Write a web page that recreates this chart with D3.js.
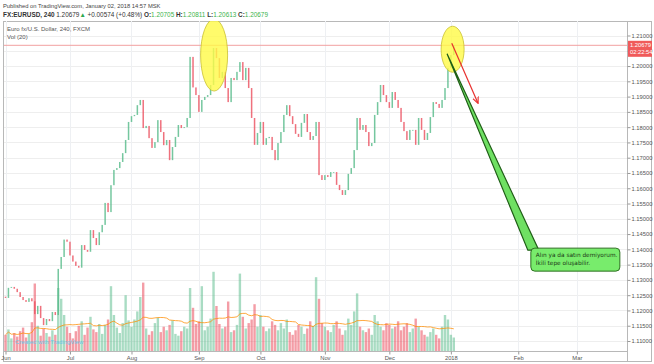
<!DOCTYPE html>
<html>
<head>
<meta charset="utf-8">
<script src="https://cdn.jsdelivr.net/npm/d3@7"></script>
<style>
body { margin: 0; background: #fff; }
svg text { font-family: "Liberation Sans", Arial, sans-serif; }
</style>
</head>
<body>
<div id="chartDiv"></div>
<script>
var width = 654;
var height = 364;
var plot = { left: 4, top: 21, right: 627, bottom: 351 };

// month axis: labels and the session index where each month starts
var monthLabels = ["Jun", "Jul", "Aug", "Sep", "Oct", "Nov", "Dec", "2018", "Feb", "Mar"];
var monthStarts = [0, 22, 43, 66, 87, 109, 131, 152, 175, 195];

var priceTicks = [1.110, 1.115, 1.120, 1.125, 1.130, 1.135, 1.140, 1.145, 1.150, 1.155, 1.160,
                  1.165, 1.170, 1.175, 1.180, 1.185, 1.190, 1.195, 1.200, 1.205, 1.210];

var firstOpen = 1.1245;
// closes, one per session, Jun 1 2017 .. Jan 2 2018
var closes = [
  1.1241, 1.1274, 1.1277, 1.1271, 1.1260, 1.1244, 1.1234, 1.1228, 1.1240, 1.1230, 1.1188, 1.1215,
  1.1175, 1.1152, 1.1172, 1.1165, 1.1195, 1.1185, 1.1336, 1.1375, 1.1432, 1.1425,
  1.1380, 1.1360, 1.1346, 1.1340, 1.1414, 1.1398, 1.1392, 1.1463, 1.1437, 1.1414, 1.1456,
  1.1480, 1.1552, 1.1522, 1.1610, 1.1660, 1.1666, 1.1686, 1.1715, 1.1758, 1.1817,
  1.1836, 1.1840, 1.1872, 1.1889, 1.1797, 1.1804, 1.1764, 1.1732, 1.1751, 1.1823, 1.1784,
  1.1741, 1.1758, 1.1692, 1.1735, 1.1768, 1.1807, 1.1797, 1.1800, 1.1830, 1.2030, 1.1930, 1.1905,
  1.1850, 1.1889, 1.1899, 1.1905, 1.1938, 1.2059, 1.2026, 1.1961, 1.1981, 1.1928, 1.1882,
  1.1961, 1.1954, 1.1981, 1.2013, 1.1954, 1.1994, 1.1928, 1.1830, 1.1742, 1.1781,
  1.1817, 1.1742, 1.1764, 1.1768, 1.1725, 1.1692, 1.1748, 1.1784, 1.1840, 1.1872, 1.1836,
  1.1810, 1.1778, 1.1768, 1.1814, 1.1843, 1.1784, 1.1758, 1.1771, 1.1817, 1.1643, 1.1627,
  1.1643, 1.1637, 1.1653, 1.1653, 1.1611, 1.1594, 1.1578, 1.1594, 1.1647, 1.1666, 1.1725,
  1.1830, 1.1791, 1.1807, 1.1784, 1.1738, 1.1748, 1.1840, 1.1882, 1.1938, 1.1905, 1.1882,
  1.1863, 1.1915, 1.1889, 1.1863, 1.1817, 1.1787, 1.1758, 1.1791, 1.1791, 1.1742, 1.1830,
  1.1791, 1.1758, 1.1781, 1.1833, 1.1882, 1.1876, 1.1863, 1.1889, 1.1928, 1.1994,
  1.2036, 1.20679
];

var volumes = [
  18, 24, 14, 20, 16, 22, 26, 15, 19, 32, 75, 28, 17, 25, 20, 16, 23, 18, 70, 58, 40, 27,
  20, 14, 22, 28, 33, 18, 26, 38, 24, 21, 30, 19, 29, 35, 72, 40, 26, 20, 31, 62, 34,
  27, 35, 44, 60, 76, 25, 18, 22, 31, 37, 21, 27, 23, 29, 34, 19, 17, 22, 27, 25, 70, 48, 30,
  33, 72, 23, 27, 36, 88, 50, 30, 25, 27, 55, 21, 23, 29, 86, 38, 25, 31, 35, 52, 27,
  40, 27, 22, 25, 33, 29, 23, 31, 25, 35, 21, 18, 23, 29, 27, 19, 25, 33, 28, 82, 58, 31,
  27, 23, 21, 29, 33, 25, 18, 23, 36, 29, 44, 64, 27, 23, 21, 25, 18, 40, 33, 27, 23, 31,
  29, 25, 27, 33, 23, 27, 31, 21, 25, 36, 27, 23, 18, 16, 21, 25, 18, 14, 27, 40, 35,
  18, 15
];

var lastPrice = 1.20679;
var lastTime = "02:22:54";
var upColor = "#53b987";
var downColor = "#eb4d5c";

var x = d3.scaleLinear().domain([0, 212]).range([5.5, 5.5 + 212 * 2.93]);
var y = d3.scaleLinear().domain([1.11, 1.21]).range([341, 35.5]);
var yVol = d3.scaleLinear().domain([0, 100]).range([plot.bottom, plot.bottom - 90]);

function openOf(i) { return i == 0 ? firstOpen : closes[i - 1]; }

var chart = d3.select("#chartDiv").append("svg")
    .attr("width", width)
    .attr("height", height);

chart.append("defs").append("clipPath").attr("id", "plotClip")
  .append("rect")
    .attr("x", plot.left).attr("y", plot.top)
    .attr("width", plot.right - plot.left).attr("height", plot.bottom - plot.top);

chart.append("defs").append("marker")
    .attr("id", "redHead")
    .attr("viewBox", "0 0 10 10")
    .attr("refX", 8).attr("refY", 5)
    .attr("markerWidth", 6).attr("markerHeight", 6)
    .attr("orient", "auto")
  .append("path")
    .attr("d", "M0,1 L9,5 L0,9")
    .attr("fill", "none")
    .attr("stroke", "#e8302e")
    .attr("stroke-width", 1.6);

// header
chart.append("text")
    .attr("x", 3).attr("y", 8)
    .style("font-size", "5.8px").style("fill", "#444")
    .text("Published on TradingView.com, January 02, 2018 14:57 MSK");

var head = chart.append("text")
    .attr("x", 3).attr("y", 17)
    .style("font-size", "6.4px").style("fill", "#333");
head.append("tspan").style("font-weight", "bold").text("FX:EURUSD, 240 ");
head.append("tspan").text("1.20679");
head.append("tspan").style("fill", "#2fa84f").text("▲");
head.append("tspan").text(" +0.00574 (+0.48%) ");
[["O:", "1.20705"], ["H:", "1.20811"], ["L:", "1.20613"], ["C:", "1.20679"]].forEach(function(p) {
    head.append("tspan").style("font-weight", "bold").text(p[0]);
    head.append("tspan").style("fill", "#3cb44b").text(p[1] + " ");
});

// frame
chart.append("rect")
    .attr("x", 3.5).attr("y", 21.5)
    .attr("width", 648).attr("height", 340)
    .attr("fill", "none").attr("stroke", "#b8b8b8");

// grid
chart.append("g").selectAll("line")
    .data(priceTicks)
  .enter().append("line")
    .attr("x1", plot.left).attr("x2", plot.right)
    .attr("y1", function(d) { return Math.round(y(d)) + 0.5; })
    .attr("y2", function(d) { return Math.round(y(d)) + 0.5; })
    .attr("stroke", "#eeeeee");

chart.append("g").selectAll("line")
    .data(monthStarts)
  .enter().append("line")
    .attr("x1", function(d) { return Math.round(x(d)) + 0.5; })
    .attr("x2", function(d) { return Math.round(x(d)) + 0.5; })
    .attr("y1", plot.top).attr("y2", plot.bottom)
    .attr("stroke", "#eef0f3");

// legend
chart.append("text")
    .attr("x", 7).attr("y", 31)
    .style("font-size", "6px").style("fill", "#555")
    .text("Euro fx/U.S. Dollar, 240, FXCM");
chart.append("text")
    .attr("x", 7).attr("y", 39)
    .style("font-size", "6px").style("fill", "#555")
    .text("Vol (20)");

var plotArea = chart.append("g").attr("clip-path", "url(#plotClip)");

// volume bars
plotArea.selectAll(".vol")
    .data(volumes)
  .enter().append("rect")
    .attr("class", "vol")
    .attr("x", function(d, i) { return x(i) - 1.2; })
    .attr("width", 2.4)
    .attr("y", function(d) { return yVol(d); })
    .attr("height", function(d) { return plot.bottom - yVol(d); })
    .attr("fill", function(d, i) {
        return closes[i] >= openOf(i) ? "rgba(83,185,135,0.5)" : "rgba(235,77,92,0.55)";
    });

// volume moving average (20)
var volMa = volumes.map(function(v, i) {
    return d3.mean(volumes.slice(Math.max(0, i - 19), i + 1));
});
plotArea.append("path")
    .datum(volMa)
    .attr("fill", "none")
    .attr("stroke", "rgba(255,140,0,0.75)")
    .attr("stroke-width", 1)
    .attr("d", d3.line()
        .x(function(d, i) { return x(i); })
        .y(function(d) { return yVol(d); }));

// last price line
plotArea.append("line")
    .attr("x1", plot.left).attr("x2", plot.right)
    .attr("y1", y(lastPrice)).attr("y2", y(lastPrice))
    .attr("stroke", "#f2a0a0").attr("stroke-width", 1);

// candles
plotArea.selectAll(".candle")
    .data(closes)
  .enter().append("rect")
    .attr("class", "candle")
    .attr("x", function(d, i) { return x(i) - 0.75; })
    .attr("width", 1.5)
    .attr("y", function(d, i) { return y(Math.max(openOf(i), d)); })
    .attr("height", function(d, i) {
        return Math.max(0.8, Math.abs(y(openOf(i)) - y(d)));
    })
    .attr("fill", function(d, i) { return d >= openOf(i) ? upColor : downColor; })
    .attr("opacity", 0.8);

// drawings: yellow ellipses
var ellipses = [
    { i: 71.2, p: 1.2036, rx: 13.5, ry: 36 },
    { i: 152.6, p: 1.2055, rx: 11.5, ry: 23 }
];
plotArea.selectAll(".mark")
    .data(ellipses)
  .enter().append("ellipse")
    .attr("class", "mark")
    .attr("cx", function(d) { return x(d.i); })
    .attr("cy", function(d) { return y(d.p); })
    .attr("rx", function(d) { return d.rx; })
    .attr("ry", function(d) { return d.ry; })
    .attr("fill", "rgba(255,250,70,0.8)")
    .attr("stroke", "#c9c030")
    .attr("stroke-width", 0.8);

// red arrow
plotArea.append("line")
    .attr("x1", x(152.3)).attr("y1", y(1.2075))
    .attr("x2", x(161.2)).attr("y2", y(1.1880))
    .attr("stroke", "#e8302e").attr("stroke-width", 1.2)
    .attr("marker-end", "url(#redHead)");

// green callout
var tip = [x(150.7), y(1.2040)];
var box = { x: x(179.3), y: y(1.1404), w: 89, h: 23 };
plotArea.append("path")
    .attr("d", "M" + tip[0] + "," + tip[1] + " L" + (box.x - 3) + "," + (box.y + 2) +
               " L" + (box.x + 8) + "," + (box.y + 2) + " Z")
    .attr("fill", "#6fe063").attr("stroke", "#1f5e16").attr("stroke-width", 1.2);
plotArea.append("rect")
    .attr("x", box.x).attr("y", box.y)
    .attr("width", box.w).attr("height", box.h)
    .attr("rx", 4)
    .attr("fill", "#78ec6c").attr("stroke", "#2f6e22").attr("stroke-width", 1);
plotArea.append("text")
    .attr("x", box.x + 5).attr("y", box.y + 9)
    .style("font-family", "'DejaVu Sans', sans-serif")
    .style("font-size", "5.8px").style("fill", "#1d3a18")
    .text("Alın ya da satın demiyorum.");
plotArea.append("text")
    .attr("x", box.x + 5).attr("y", box.y + 16.5)
    .style("font-family", "'DejaVu Sans', sans-serif")
    .style("font-size", "5.8px").style("fill", "#1d3a18")
    .text("İkili tepe oluşabilir.");

// watermark text in volume pane
chart.append("text")
    .attr("x", 15).attr("y", 344)
    .style("font-size", "6px").style("fill", "#6cc6e6")
    .text("Created with TradingView");

// axes borders
chart.append("line")
    .attr("x1", plot.right + 0.5).attr("x2", plot.right + 0.5)
    .attr("y1", 21.5).attr("y2", 361.5)
    .attr("stroke", "#b8b8b8");
chart.append("line")
    .attr("x1", 3.5).attr("x2", plot.right + 0.5)
    .attr("y1", plot.bottom + 0.5).attr("y2", plot.bottom + 0.5)
    .attr("stroke", "#b8b8b8");

// right price axis
var yAxis = d3.axisRight(y)
    .tickValues(priceTicks)
    .tickSize(3)
    .tickFormat(d3.format(".5f"));
var yAxisG = chart.append("g")
    .attr("transform", "translate(" + (plot.right + 0.5) + ",0)")
    .call(yAxis);
yAxisG.select(".domain").remove();
yAxisG.selectAll("line").attr("stroke", "#999");
yAxisG.selectAll("text")
    .attr("x", 4)
    .style("font-size", "5.8px").style("fill", "#555")
    .style("font-family", "'Liberation Sans', Arial, sans-serif");

// last price tag
chart.append("rect")
    .attr("x", plot.right + 1).attr("y", y(lastPrice) - 4.5)
    .attr("width", 24).attr("height", 16)
    .attr("fill", "#f05a5a");
chart.append("text")
    .attr("x", plot.right + 3).attr("y", y(lastPrice) + 2)
    .style("font-size", "5.8px").style("fill", "#fff")
    .text(d3.format(".5f")(lastPrice));
chart.append("text")
    .attr("x", plot.right + 3).attr("y", y(lastPrice) + 9)
    .style("font-size", "5.8px").style("fill", "#fff")
    .text(lastTime);

// bottom month axis
var xAxis = d3.axisBottom(x)
    .tickValues(monthStarts)
    .tickSize(3)
    .tickFormat(function(d, i) { return monthLabels[i]; });
var xAxisG = chart.append("g")
    .attr("transform", "translate(0," + (plot.bottom + 0.5) + ")")
    .call(xAxis);
xAxisG.select(".domain").remove();
xAxisG.selectAll("line").attr("stroke", "#999");
xAxisG.selectAll("text")
    .attr("y", 4)
    .style("font-size", "5.8px").style("fill", "#555")
    .style("font-family", "'Liberation Sans', Arial, sans-serif");
</script>
</body>
</html>
